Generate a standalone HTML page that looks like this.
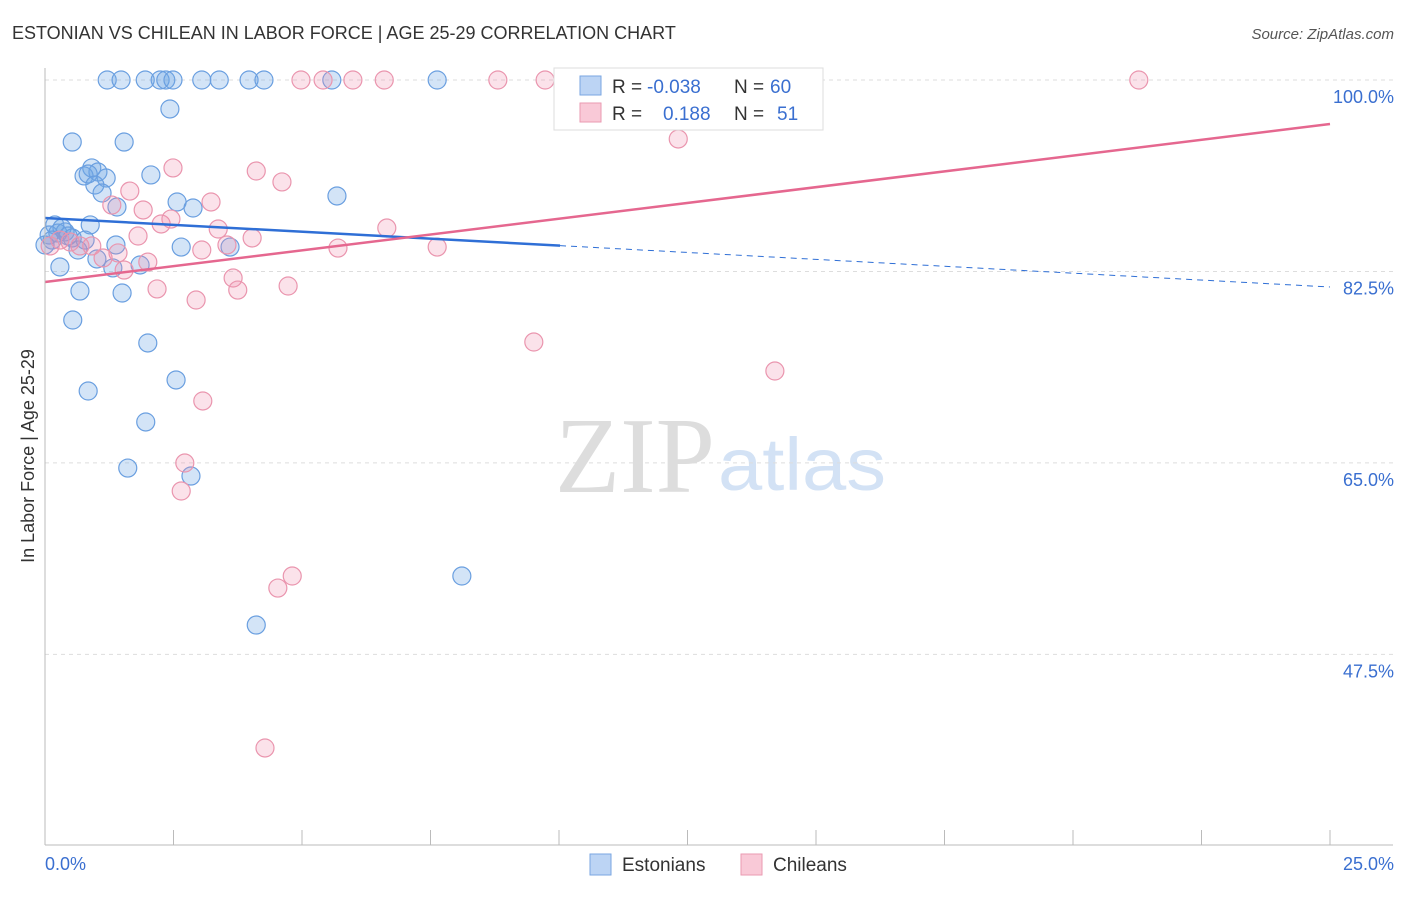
<!DOCTYPE html>
<html><head><meta charset="utf-8"><style>
body{margin:0;background:#fff;font-family:"Liberation Sans",sans-serif}
</style></head><body>
<svg id="c" width="1406" height="892" font-family="Liberation Sans, sans-serif">
<text x="12" y="39" font-size="18" fill="#333">ESTONIAN VS CHILEAN IN LABOR FORCE | AGE 25-29 CORRELATION CHART</text>
<text x="1394" y="39" font-size="15" fill="#555" font-style="italic" text-anchor="end">Source: ZipAtlas.com</text>
<text x="555" y="492" font-size="108" fill="#ddd" style="font-family:'Liberation Serif',serif" textLength="160" lengthAdjust="spacingAndGlyphs">ZIP</text>
<text x="718" y="490" font-size="74" fill="#d3e2f5" textLength="168" lengthAdjust="spacingAndGlyphs">atlas</text>
<text transform="translate(34,456) rotate(-90)" font-size="18" fill="#333" text-anchor="middle">In Labor Force | Age 25-29</text>
<g id="grid"></g><g id="pts"></g><g id="lines"></g>
<line x1="45" y1="68" x2="45" y2="845" stroke="#bbb"/>
<line x1="45" y1="845" x2="1393" y2="845" stroke="#bbb"/>
<text x="45" y="870" font-size="18" fill="#3a6fd0">0.0%</text>
<text x="1394" y="870" font-size="18" fill="#3a6fd0" text-anchor="end">25.0%</text>
<g>
<rect x="554" y="68" width="269" height="62" fill="#fff" stroke="#ddd"/>
<rect x="580" y="76" width="21" height="19" fill="#bcd4f4" stroke="#7aa6e2"/>
<rect x="580" y="103" width="21" height="19" fill="#f9c9d7" stroke="#ea9ab2"/>
<text y="93" font-size="19" fill="#333"><tspan x="612">R =</tspan><tspan x="647" fill="#3a6fd0">-0.038</tspan><tspan x="734">N =</tspan><tspan x="770" fill="#3a6fd0">60</tspan></text>
<text y="120" font-size="19" fill="#333"><tspan x="612">R =</tspan><tspan x="663" fill="#3a6fd0">0.188</tspan><tspan x="734">N =</tspan><tspan x="777" fill="#3a6fd0">51</tspan></text>
</g>
<g><rect x="590" y="854" width="21" height="21" fill="#bcd4f4" stroke="#7aa6e2"/><text x="622" y="871" font-size="19" fill="#333">Estonians</text></g>
<g><rect x="741" y="854" width="21" height="21" fill="#f9c9d7" stroke="#ea9ab2"/><text x="773" y="871" font-size="19" fill="#333">Chileans</text></g>
</svg>
<script>
const yTicks=[100,82.5,65,47.5];
const xTickCount=10;
const blueX=[1.21,1.48,1.95,2.24,2.35,2.49,3.05,3.39,3.97,4.26,5.58,7.63,2.43,0.53,1.54,0.91,1.03,0.76,0.84,1.19,0.97,2.06,1.11,1.40,2.57,2.88,5.68,0.19,0.33,0.88,0.08,0.25,0.39,0.53,0.64,0.78,1.38,2.65,3.60,0.29,1.01,1.32,1.85,0.68,1.50,0.54,2.00,0.84,2.55,1.96,1.61,2.84,8.11,4.11,0.14,0.45,0];
const blueY=[100,100,100,100,100,100,100,100,100,100,100,100,97.35,94.33,94.33,91.96,91.59,91.23,91.41,91.04,90.40,91.32,89.67,88.39,88.85,88.30,89.40,86.75,86.47,86.75,85.83,86.01,86.11,85.56,84.46,85.37,84.92,84.73,84.73,82.91,83.64,82.82,83.09,80.71,80.53,78.06,75.96,71.57,72.58,68.74,64.53,63.80,54.66,50.18,85.37,85.74,84.92];
const pinkX=[4.98,5.41,5.99,6.60,8.81,9.73,21.28,12.32,2.49,4.11,4.61,1.65,3.23,1.30,1.91,2.26,2.45,3.37,6.65,1.81,4.03,3.54,3.05,5.70,7.63,0.91,1.42,0.29,0.68,1.13,1.54,2.00,3.66,3.75,4.73,2.18,2.94,9.51,14.20,3.07,2.72,2.65,4.81,4.53,4.28,0.10,0.49];
const pinkY=[100,100,100,100,100,100,100,94.61,91.96,91.68,90.68,89.85,88.85,88.57,88.12,86.84,87.29,86.38,86.47,85.74,85.56,84.92,84.46,84.64,84.73,84.83,84.19,85.37,84.83,83.73,82.63,83.36,81.90,80.80,81.17,80.90,79.89,76.05,73.40,70.66,64.99,62.43,54.66,53.56,38.94,84.83,85.19];
const blueTrend=[87.39,81.08]; const blueSolidEnd=10.02;
const pinkTrend=[81.54,95.98];
const NS='http://www.w3.org/2000/svg';
const xs=v=>45+v/25*1285, ys=v=>80+(100-v)*10.94;
function mk(t,a,p){const e=document.createElementNS(NS,t);for(const k in a)e.setAttribute(k,a[k]);document.getElementById(p).appendChild(e);return e;}
yTicks.forEach(t=>{
 const l=mk('line',{x1:45,x2:1393,y1:ys(t),y2:ys(t),stroke:'#ddd','stroke-dasharray':'4,4'},'grid');
 
 
 const tx=mk('text',{x:1394,y:ys(t)+23,'font-size':18,fill:'#3a6fd0','text-anchor':'end'},'grid');
 tx.textContent=t.toFixed(1)+'%';
 
 
});
for(let i=1;i<=xTickCount;i++){
 const l=mk('line',{x1:xs(i*2.5),x2:xs(i*2.5),y1:830,y2:845,stroke:'#bbb'},'grid');
 
 
}
blueX.forEach((x,i)=>{const c=mk('circle',{cx:xs(x),cy:ys(blueY[i]),r:9,fill:'rgba(110,165,230,0.3)',stroke:'#6a9fe0','stroke-width':1.2},'pts');
 
 });
pinkX.forEach((x,i)=>{const c=mk('circle',{cx:xs(x),cy:ys(pinkY[i]),r:9,fill:'rgba(240,140,170,0.25)',stroke:'#ea95ae','stroke-width':1.2},'pts');
 
 });
const bAt=x=>blueTrend[0]+(blueTrend[1]-blueTrend[0])*x/25;
let l=mk('line',{x1:xs(0),y1:ys(bAt(0)),x2:xs(blueSolidEnd),y2:ys(bAt(blueSolidEnd)),stroke:'#2f6fd6','stroke-width':2.5},'lines');


l=mk('line',{x1:xs(blueSolidEnd),y1:ys(bAt(blueSolidEnd)),x2:xs(25),y2:ys(bAt(25)),stroke:'#2f6fd6','stroke-width':1,'stroke-dasharray':'6,5'},'lines');


l=mk('line',{x1:xs(0),y1:ys(pinkTrend[0]),x2:xs(25),y2:ys(pinkTrend[1]),stroke:'#e5678f','stroke-width':2.5},'lines');


</script>
</body></html>
